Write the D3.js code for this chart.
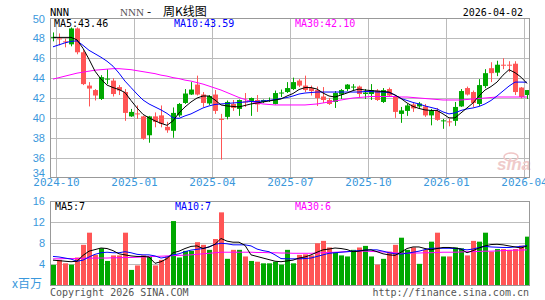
<!DOCTYPE html>
<html><head><meta charset="utf-8">
<script src="https://cdn.jsdelivr.net/npm/d3@7"></script>
<style>body{margin:0;background:#fff}svg{display:block}</style>
</head><body><svg id="c" width="545" height="300"></svg>
<script>
const open  = [48.05,48.0,47.7,47.4,49.0,46.6,43.25,42.8,41.9,43.85, 43.75,43.1,42.6,40.15,40.45,40.15,38.25,40.15,40.25,39.1, 38.7,40.25,41.5,42.35,43.35,42.35,41.45,42.35,39.9,40.1, 41.4,40.9,41.65,41.7,41.8,41.6,41.7,41.4,42.45,42.6, 42.9,43.75,43.25,43.0,42.8,42.15,41.8,41.6,42.35,42.9, 43.1,43.15,42.4,42.4,42.75,41.6,42.9,42.1,40.4,40.7, 41.35,41.15,41.15,40.25,40.7,39.65,39.65,39.7,41.15,43.0, 42.6,41.4,43.2,45.0,44.55,45.35,45.35,45.45,43.05,42.3];
const high  = [48.6,48.5,48.0,49.1,49.1,46.8,43.6,42.9,44.3,44.9, 44.0,43.3,42.9,40.9,41.25,40.2,40.2,40.55,41.25,39.6, 41.05,41.5,42.9,43.6,44.25,42.6,42.3,42.8,40.4,41.75, 41.8,41.85,42.5,42.05,42.3,41.85,42.05,42.75,42.85,43.6, 44.05,43.9,44.25,43.25,43.15,43.1,42.0,42.7,42.9,43.4, 43.4,43.25,42.9,43.4,42.9,43.0,43.05,42.3,41.1,41.4, 41.5,41.6,41.4,40.9,41.0,39.9,39.9,41.6,42.9,43.15, 42.75,43.9,44.9,45.6,45.75,46.0,45.7,45.7,43.1,42.8];
const low   = [47.7,47.3,47.1,47.2,46.4,43.3,41.15,41.75,41.8,43.4, 42.15,42.3,39.7,40.1,39.9,37.8,37.5,39.05,39.05,38.5, 38.0,40.1,41.4,42.3,42.25,41.1,41.3,40.4,35.8,39.85, 40.7,40.2,41.1,40.2,40.6,41.5,41.6,41.35,42.1,42.5, 42.8,43.1,42.6,42.25,41.2,41.5,41.3,41.0,41.9,42.7, 42.8,42.1,41.9,41.8,41.7,41.5,42.1,40.0,39.5,40.2, 40.6,41.0,40.1,39.25,39.7,38.9,39.15,39.2,41.1,42.25, 41.1,41.2,43.0,43.6,44.2,44.9,44.6,42.3,41.95,41.9];
const close = [48.15,47.9,47.6,49.0,46.6,43.4,42.95,42.25,44.1,43.95, 42.4,42.75,40.5,40.6,40.35,37.9,40.15,39.6,39.4,38.75, 40.5,41.4,42.45,42.85,42.35,41.5,42.2,40.7,39.8,41.6, 41.0,41.8,41.55,42.0,41.35,41.8,41.8,42.5,42.55,43.0, 43.6,43.25,42.8,42.7,42.0,41.8,41.4,42.5,42.8,43.35, 43.15,42.4,42.55,42.8,41.8,42.8,42.25,40.6,40.75,41.25, 40.95,41.45,40.25,40.75,39.8,39.75,39.55,41.1,42.7,42.35, 41.5,43.3,44.5,44.5,45.35,45.25,45.25,42.6,42.1,42.8];
const volume = [3.9,4.85,4.2,3.95,5.3,7.7,10.0,5.8,7.05,4.65, 5.7,5.7,10.0,2.95,3.8,5.7,5.5,3.8,4.85,5.5, 12.2,5.3,6.55,6.55,8.2,7.7,6.75,8.8,13.85,5.05, 6.75,6.75,5.5,4.65,4.5,4.2,4.2,4.5,3.95,6.75, 4.2,5.8,5.9,5.7,8.0,8.45,7.2,6.3,5.7,5.5, 6.75,7.2,7.5,5.5,3.95,5.05,6.4,7.7,9.05,6.75, 7.2,4.1,6.75,8.3,10.0,5.5,5.5,7.2,7.05,5.7, 8.45,8.3,10.0,6.4,6.9,6.9,6.75,6.9,7.55,9.25];
const ma5  = [48.1,48.1,48.1,48.1,47.85,47.0,45.9,44.7,43.9,43.3, 43.05,42.85,42.55,41.75,41.0,40.35,40.0,39.7,39.45,39.25, 39.7,40.5,41.1,41.6,42.0,42.2,42.2,41.8,41.3,41.2, 41.15,41.1,41.25,41.4,41.5,41.6,41.7,41.8,41.9,42.2, 42.45,42.85,43.05,43.05,42.9,42.5,42.2,42.1,42.3,42.5, 42.75,42.9,42.8,42.75,42.7,42.65,42.6,42.3,41.95,41.5, 41.15,40.95,40.8,40.75,40.75,40.4,40.0,40.0,40.5,41.0, 41.5,42.2,42.8,43.15,43.6,44.3,44.85,44.55,44.1,43.46];
const ma10 = [47.15,47.35,47.55,47.7,47.75,47.3,46.8,46.45,46.1,45.7, 45.2,44.5,43.7,43.05,42.4,41.8,41.4,41.1,40.8,40.45, 40.0,39.95,40.2,40.4,40.7,41.0,41.2,41.35,41.4,41.45, 41.5,41.55,41.6,41.65,41.65,41.7,41.75,41.85,41.95,42.05, 42.2,42.4,42.5,42.55,42.6,42.6,42.6,42.6,42.6,42.6, 42.6,42.6,42.65,42.65,42.6,42.6,42.55,42.3,41.95,41.75, 41.55,41.4,41.2,41.05,40.9,40.6,40.4,40.5,40.75,40.9, 41.0,41.15,41.4,41.75,42.2,42.7,43.2,43.6,43.6,43.59];
const ma30 = [43.9,44.05,44.2,44.35,44.5,44.6,44.7,44.8,44.85,44.9, 44.95,44.95,44.9,44.85,44.75,44.65,44.55,44.45,44.3,44.2, 44.05,43.95,43.8,43.7,43.55,43.4,43.2,43.0,42.8,42.55, 42.3,42.05,41.85,41.65,41.5,41.4,41.35,41.3,41.3,41.3, 41.3,41.3,41.3,41.35,41.4,41.5,41.6,41.7,41.8,41.9, 42.0,42.05,42.1,42.15,42.15,42.15,42.15,42.15,42.1,42.1, 42.05,42.0,41.95,41.9,41.85,41.8,41.8,41.8,41.8,41.85, 41.9,41.95,42.0,42.05,42.1,42.1,42.1,42.1,42.1,42.1];
const vma5  = [4.8,4.7,4.6,4.5,4.6,5.7,6.5,6.8,7.1,7.0, 6.6,6.0,5.8,5.6,5.5,5.5,5.4,4.2,4.5,5.1, 6.2,6.5,7.0,7.4,7.5,7.0,7.3,7.8,8.9,8.4, 8.2,8.2,7.6,5.8,5.5,5.2,4.9,4.6,4.5,4.65, 4.8,5.2,5.4,5.8,6.3,6.75,6.9,7.1,7.0,6.8, 6.4,6.5,6.7,6.75,6.4,6.0,5.8,5.7,6.3,7.0, 7.3,7.3,7.0,6.75,7.0,7.2,7.2,7.1,6.9,6.2, 6.6,7.1,7.5,7.75,7.8,7.7,7.5,7.3,7.1,7.5];
const vma10 = [5.5,5.4,5.2,5.0,4.6,4.8,5.4,5.9,6.2,6.3, 6.2,6.2,6.4,6.2,5.9,5.8,5.8,5.6,5.2,5.4, 5.8,6.0,6.4,6.7,6.85,7.0,7.3,7.8,8.0,7.9, 7.7,7.7,7.7,7.5,6.9,6.6,6.4,5.8,5.1,5.05, 5.05,5.05,5.1,5.2,5.5,5.8,6.1,6.2,6.3,6.4, 6.5,6.6,6.7,6.75,6.75,6.5,6.2,6.0,5.95,6.1, 6.3,6.5,6.8,7.05,7.05,7.05,7.05,7.0,6.9,6.75, 6.9,7.2,7.4,7.3,7.25,7.2,7.2,7.3,7.4,7.55];
const vma30 = [5.05,5.05,5.1,5.1,5.1,5.15,5.15,5.2,5.2,5.2, 5.25,5.25,5.3,5.3,5.35,5.4,5.45,5.5,5.55,5.6, 5.65,5.7,5.75,5.8,5.9,6.0,6.1,6.2,6.3,6.3, 6.3,6.3,6.3,6.3,6.25,6.25,6.2,6.2,6.15,6.15, 6.1,6.1,6.1,6.1,6.15,6.2,6.25,6.3,6.35,6.4, 6.45,6.5,6.5,6.45,6.4,6.35,6.3,6.2,6.1,6.1, 6.15,6.15,6.2,6.2,6.25,6.3,6.3,6.3,6.35,6.4, 6.4,6.45,6.5,6.5,6.55,6.6,6.65,6.7,6.7,6.75];
const priceTicks = [50,48,46,44,42,40,38,36,34];
const volTicks = [16,12,8,4];
const dateTicks = ["2024-10","2025-01","2025-04","2025-07","2025-10","2026-01","2026-04"];
const firstWeek = "2024-09-27";
const lastDate = "2026-04-02";

const svg = d3.select("#c");
const MONO = "'DejaVu Sans Mono', monospace";
const SANS = "'Liberation Sans', Arial, sans-serif";
const CJK = "'Noto Sans CJK SC', sans-serif";
const BLUE = "#3a98dc", UP = "#00a800", DOWN = "#ff5555", GRID = "#bbbbbb", FRAME = "#999999";

const n = close.length;
const start = d3.timeParse("%Y-%m-%d")(firstWeek);
const weeks = d3.range(n).map(i => d3.timeDay.offset(start, 7 * i));
const fmtM = d3.timeFormat("%Y-%m");
const tickIdx = dateTicks.map(t => weeks.findIndex(w => fmtM(w) === t));

const x = d3.scaleBand().domain(d3.range(n)).range([50, 530]).padding(0);
const xLin = d3.scaleLinear().domain([0, n]).range([50, 530]);
const y = d3.scaleLinear().domain([34, 50]).range([177.5, 18.5]);
const yv = d3.scaleLinear().domain([0, 16]).range([285.5, 201]);
const crisp = v => Math.round(v) + 0.5;

// ---- main panel grid ----
const gMain = svg.append("g");
gMain.selectAll("line.h").data(priceTicks.filter(v => v > 34 && v < 50)).enter().append("line")
  .attr("x1", 50).attr("x2", 530).attr("y1", d => crisp(y(d))).attr("y2", d => crisp(y(d)))
  .attr("stroke", GRID);
gMain.selectAll("line.v").data(tickIdx).enter().append("line")
  .attr("y1", 18.5).attr("y2", 177.5).attr("x1", d => crisp(xLin(d))).attr("x2", d => crisp(xLin(d)))
  .attr("stroke", GRID);

// candles
const up = i => close[i] >= open[i];
const cg = gMain.selectAll("g.k").data(d3.range(n)).enter().append("g");
cg.append("line")
  .attr("x1", i => x(i) + 3.5).attr("x2", i => x(i) + 3.5)
  .attr("y1", i => y(high[i])).attr("y2", i => y(low[i]))
  .attr("stroke", i => up(i) ? UP : DOWN);
cg.append("rect")
  .attr("x", i => x(i) + 1).attr("width", 5)
  .attr("y", i => y(Math.max(open[i], close[i])))
  .attr("height", i => Math.max(1, Math.abs(y(open[i]) - y(close[i]))))
  .attr("fill", i => up(i) ? UP : DOWN);

// watermark
svg.append("ellipse").attr("cx", 511).attr("cy", 157).attr("rx", 7).attr("ry", 4)
  .attr("fill", "none").attr("stroke", "#f0c6c6").attr("stroke-width", 1.5);
svg.append("text").attr("x", 497).attr("y", 170).text("sina")
  .attr("font-family", SANS).attr("font-style", "italic").attr("font-weight", "bold")
  .attr("font-size", 17).attr("fill", "#efcaca");

// MA lines (price)
const lineP = d3.line().x((d, i) => x(i) + 3).y(d => y(d));
[[ma30, "#ff00ff"], [ma10, "#0000ff"], [ma5, "#000000"]].forEach(([arr, col]) => {
  gMain.append("path").datum(arr).attr("d", lineP).attr("fill", "none").attr("stroke", col).attr("stroke-width", 1);
});

// frame
svg.append("rect").attr("x", 50.5).attr("y", 18.5).attr("width", 479).attr("height", 159)
  .attr("fill", "none").attr("stroke", FRAME);

// y axis (price)
const ay = svg.append("g").attr("transform", "translate(50,0)")
  .call(d3.axisLeft(y).tickValues(priceTicks).tickSize(0).tickPadding(5));
ay.select(".domain").remove();
ay.selectAll("text").attr("fill", BLUE).attr("font-family", SANS).attr("font-size", 11);
ay.selectAll(".tick").filter(d => d === 34).attr("transform", `translate(0,${y(34) - 3.7})`);

// x axis
const ax = svg.append("g").attr("transform", "translate(0,177.5)")
  .call(d3.axisBottom(xLin).tickValues(tickIdx).tickSize(0).tickPadding(1).tickFormat(i => fmtM(weeks[i])));
ax.select(".domain").remove();
ax.selectAll("text").attr("fill", BLUE).attr("font-family", MONO).attr("font-size", 11);

// title row
svg.append("text").attr("x", 50).attr("y", 15.5).text("NNN")
  .attr("font-family", MONO).attr("font-size", 10.5).attr("fill", "#000");
svg.append("text").attr("x", 120).attr("y", 15.5).text("NNN")
  .attr("font-family", "'Liberation Serif', serif").attr("font-size", 11).attr("fill", "#555");
svg.append("text").attr("x", 147).attr("y", 15.5).text("-")
  .attr("font-family", CJK).attr("font-size", 12).attr("fill", "#000");
svg.append("text").attr("x", 163).attr("y", 15.5).text("周K线图")
  .attr("font-family", CJK).attr("font-size", 12).attr("fill", "#000");
svg.append("text").attr("x", 523).attr("y", 15.5).attr("text-anchor", "end").text(lastDate)
  .attr("font-family", MONO).attr("font-size", 10).attr("fill", "#000");

// MA labels
const last = a => a[a.length - 1];
const lab = (xx, yy, txt, col) => svg.append("text").attr("x", xx).attr("y", yy).text(txt)
  .attr("font-family", MONO).attr("font-size", 10).attr("fill", col);
lab(54, 27, "MA5:" + last(ma5).toFixed(2), "#000");
lab(174, 27, "MA10:" + last(ma10).toFixed(2), "#0000ff");
lab(295, 27, "MA30:" + last(ma30).toFixed(2), "#ff00ff");

// ---- volume panel ----
const gVol = svg.append("g");
gVol.selectAll("line.h").data(volTicks.filter(v => v < 16)).enter().append("line")
  .attr("x1", 50).attr("x2", 530).attr("y1", d => crisp(yv(d))).attr("y2", d => crisp(yv(d)))
  .attr("stroke", GRID);
gVol.selectAll("rect.b").data(d3.range(n)).enter().append("rect")
  .attr("x", i => x(i) + 1).attr("width", 5)
  .attr("y", i => yv(volume[i])).attr("height", i => yv(0) - yv(volume[i]))
  .attr("fill", i => up(i) ? UP : DOWN);
const lineV = d3.line().x((d, i) => x(i) + 3).y(d => yv(d));
[[vma30, "#ff00ff"], [vma10, "#0000ff"], [vma5, "#000000"]].forEach(([arr, col]) => {
  gVol.append("path").datum(arr).attr("d", lineV).attr("fill", "none").attr("stroke", col).attr("stroke-width", 1);
});
svg.append("rect").attr("x", 50.5).attr("y", 201.5).attr("width", 479).attr("height", 84)
  .attr("fill", "none").attr("stroke", FRAME);
const avy = svg.append("g").attr("transform", "translate(50,0)")
  .call(d3.axisLeft(yv).tickValues(volTicks).tickSize(0).tickPadding(5));
avy.select(".domain").remove();
avy.selectAll("text").attr("fill", BLUE).attr("font-family", SANS).attr("font-size", 11);

lab(55, 210, "MA5:" + Math.floor(last(vma5)), "#000");
lab(175, 210, "MA10:" + Math.floor(last(vma10)), "#0000ff");
lab(295, 210, "MA30:" + Math.floor(last(vma30)), "#ff00ff");

svg.append("text").attr("x", 12).attr("y", 288).text("x百万")
  .attr("font-family", CJK).attr("font-size", 12).attr("fill", BLUE);
svg.append("text").attr("x", 50).attr("y", 296).text("Copyright 2026 SINA.COM")
  .attr("font-family", MONO).attr("font-size", 10).attr("fill", "#555");
svg.append("text").attr("x", 529).attr("y", 296).attr("text-anchor", "end").text("http://finance.sina.com.cn")
  .attr("font-family", MONO).attr("font-size", 10).attr("fill", "#555");
</script></body></html>
